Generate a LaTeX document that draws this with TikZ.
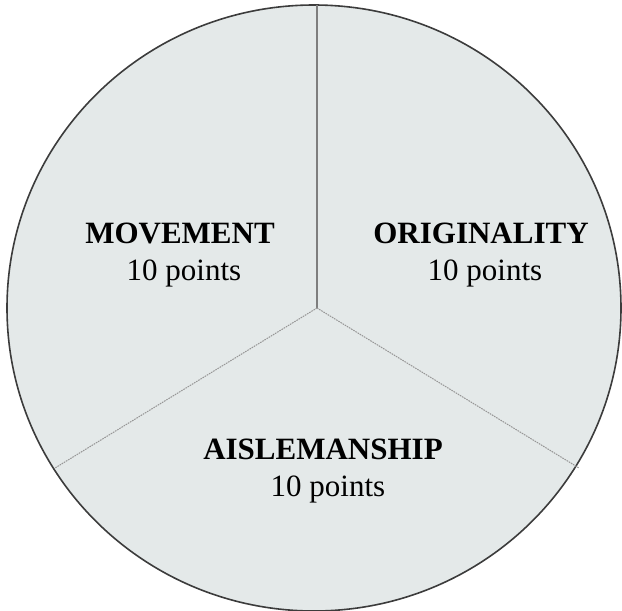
\documentclass[tikz,border=0pt]{standalone}
\usepackage{fontspec}
\setmainfont{Liberation Serif}
\usepackage{xcolor}
\usepackage{tikz}
\definecolor{piefill}{HTML}{E4E9E9}
\definecolor{rimgray}{HTML}{3C3C3C}
\definecolor{spokegray}{HTML}{7E7E7E}
\definecolor{seamgray}{HTML}{969696}
\tikzset{
  piedisc/.style={draw=rimgray, fill=piefill, line width=1.6pt},
  mainspoke/.style={draw=spokegray, line width=1.7pt},
  seamspoke/.style={draw=seamgray, line width=1pt, dash pattern=on 1.6pt off 0.9pt},
  catlabel/.style={anchor=base, inner sep=0pt, font=\fontsize{31}{36}\selectfont\bfseries},
  ptlabel/.style={anchor=base, inner sep=0pt, font=\fontsize{31}{36}\selectfont},
}
\begin{document}
\begin{tikzpicture}[x=1pt, y=-1pt]
\useasboundingbox (0,0) rectangle (622,611);

% Disc
\draw[piedisc] (314,308) ellipse [x radius=307, y radius=303];

% Spokes
\coordinate (hub) at (317,308);
\coordinate (topend) at (317,5);
\coordinate (leftend) at (55,468);
\coordinate (rightend) at (579,468);
\draw[mainspoke] (hub) -- (topend);
\draw[seamspoke] (hub) -- (leftend);
\draw[seamspoke] (hub) -- (rightend);

% Labels
\node[catlabel] (move) at (180,243) {MOVEMENT};
\node[ptlabel] (movept) at (184,280) {10 points};
\node[catlabel] (orig) at (481,243) {ORIGINALITY};
\node[ptlabel] (origpt) at (485,280) {10 points};
\node[catlabel] (aisle) at (323,459) {AISLEMANSHIP};
\node[ptlabel] (aislept) at (328,496) {10 points};

\end{tikzpicture}
\end{document}
